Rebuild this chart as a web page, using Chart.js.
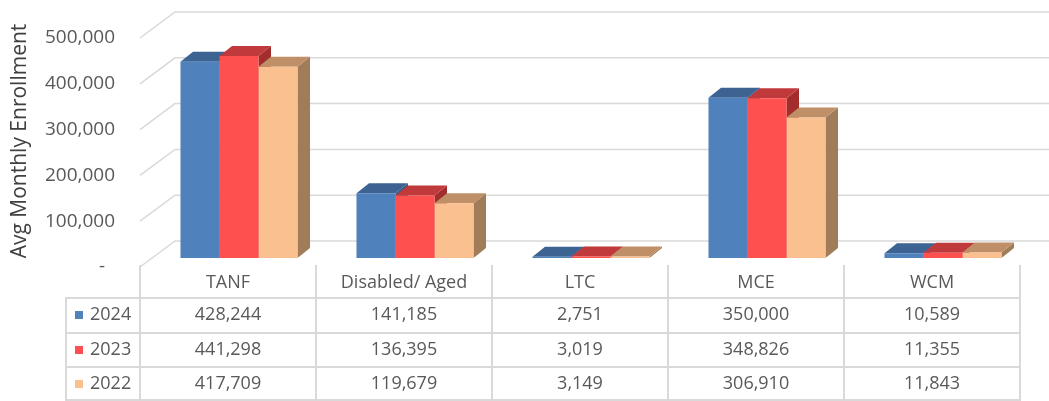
<!DOCTYPE html>
<html>
<head>
<meta charset="utf-8">
<script src="https://cdn.jsdelivr.net/npm/chart.js@4.4.1/dist/chart.umd.min.js"></script>
<style>
  html, body { margin: 0; padding: 0; background: #fff; }
  #wrap { width: 1049px; height: 401px; }
</style>
</head>
<body>
<div id="wrap"><canvas id="enrollChart"></canvas></div>
<script>
// ===== Data =====
const categories = ['TANF', 'Disabled/ Aged', 'LTC', 'MCE', 'WCM'];
const seriesNames = ['2024', '2023', '2022'];
const values2024 = [428244, 141185, 2751, 350000, 10589];
const values2023 = [441298, 136395, 3019, 348826, 11355];
const values2022 = [417709, 119679, 3149, 306910, 11843];
const yTicks = [0, 100000, 200000, 300000, 400000, 500000];
const axisTitle = 'Avg Monthly Enrollment';

// ===== Styles =====
const frontColors = ['#4F81BD', '#FF5050', '#FAC090'];
const topColors = ['#3D6393', '#C0393B', '#BF9068'];
const sideColors = ['#375A86', '#A32D2D', '#A07C5A'];
const GRID = '#D9D9D9';
const TEXT = '#595959';
const FONT = '"Open Sans", sans-serif';

// fake 3D offsets (px)
const BAR_SHIFT = { x: 11, y: -9 };
const BAR_DEPTH = { x: 12.5, y: -10 };
const WALL_SHIFT = { x: 35, y: -26 };

const fmt = v => v.toLocaleString('en-US');

const fake3d = {
    id: 'fake3d',
    beforeDatasetsDraw(chart) {
        const { ctx, chartArea, scales: { y } } = chart;

        // side wall + back wall grid
        ctx.save();
        ctx.strokeStyle = GRID;
        ctx.lineWidth = 1.5;
        yTicks.forEach(v => {
            const py = y.getPixelForValue(v);
            ctx.beginPath();
            ctx.moveTo(chartArea.left, py);
            ctx.lineTo(chartArea.left + WALL_SHIFT.x, py + WALL_SHIFT.y);
            ctx.lineTo(chart.width, py + WALL_SHIFT.y);
            ctx.stroke();
        });
        ctx.restore();

        // bars are pushed back a little; tops and sides first, fronts by Chart.js
        ctx.save();
        ctx.translate(BAR_SHIFT.x, BAR_SHIFT.y);
        const dx = BAR_DEPTH.x, dy = BAR_DEPTH.y;
        chart.data.datasets.forEach((ds, i) => {
            chart.getDatasetMeta(i).data.forEach(bar => {
                const p = bar.getProps(['x', 'y', 'base', 'width'], true);
                const l = p.x - p.width / 2, r = p.x + p.width / 2;
                ctx.fillStyle = sideColors[i];
                ctx.beginPath();
                ctx.moveTo(r, p.y);
                ctx.lineTo(r + dx, p.y + dy);
                ctx.lineTo(r + dx, p.base + dy);
                ctx.lineTo(r, p.base);
                ctx.closePath();
                ctx.fill();

                ctx.fillStyle = topColors[i];
                ctx.beginPath();
                ctx.moveTo(l, p.y);
                ctx.lineTo(r, p.y);
                ctx.lineTo(r + dx, p.y + dy);
                ctx.lineTo(l + dx, p.y + dy);
                ctx.closePath();
                ctx.fill();
            });
        });
    },
    afterDatasetsDraw(chart) {
        chart.ctx.restore();
    },
    afterDraw(chart) {
        const { ctx, scales: { x } } = chart;
        const colW = x.getPixelForValue(1) - x.getPixelForValue(0);
        const tableLeft = x.getPixelForValue(0) - colW / 2;
        const tableRight = tableLeft + colW * categories.length;
        const legendLeft = 66;
        const headTop = 265, headBottom = 298;
        const rowLines = [333, 367, 400];
        const rowMid = [315, 350, 384];
        const rows = [values2024, values2023, values2022];

        ctx.save();
        ctx.strokeStyle = GRID;
        ctx.lineWidth = 2;
        ctx.beginPath();
        for (let i = 0; i <= categories.length; i++) {
            const px = Math.round(tableLeft + colW * i);
            ctx.moveTo(px, headTop);
            ctx.lineTo(px, 401);
        }
        ctx.moveTo(legendLeft, headBottom);
        ctx.lineTo(legendLeft, 401);
        [headBottom].concat(rowLines).forEach(ly => {
            ctx.moveTo(legendLeft - 1, ly);
            ctx.lineTo(tableRight + 1, ly);
        });
        ctx.stroke();

        ctx.fillStyle = TEXT;
        ctx.font = '18px ' + FONT;
        ctx.textBaseline = 'middle';
        ctx.textAlign = 'center';
        categories.forEach((c, i) => ctx.fillText(c, x.getPixelForValue(i), 283));
        rows.forEach((vals, r) => {
            vals.forEach((v, i) => ctx.fillText(fmt(v), x.getPixelForValue(i), rowMid[r]));
        });

        ctx.textAlign = 'left';
        seriesNames.forEach((s, r) => {
            ctx.fillStyle = frontColors[r];
            ctx.fillRect(75, rowMid[r] - 4, 8, 8);
            ctx.fillStyle = TEXT;
            ctx.fillText(s, 90, rowMid[r]);
        });

        // axis title
        ctx.translate(20, 141);
        ctx.rotate(-Math.PI / 2);
        ctx.textAlign = 'center';
        ctx.fillStyle = '#404040';
        ctx.font = '21px ' + FONT;
        ctx.fillText(axisTitle, 0, 0);
        ctx.restore();
    }
};

const seriesValues = [values2024, values2023, values2022];

new Chart(document.getElementById('enrollChart'), {
    type: 'bar',
    data: {
        labels: categories,
        datasets: seriesNames.map((name, i) => ({
            label: name,
            data: seriesValues[i],
            backgroundColor: frontColors[i],
            borderWidth: 0,
            clip: false,
            categoryPercentage: 0.665,
            barPercentage: 1
        }))
    },
    options: {
        responsive: true,
        maintainAspectRatio: false,
        animation: false,
        events: [],
        layout: { padding: { top: 38, right: 29, bottom: 134, left: 0 } },
        plugins: {
            legend: { display: false },
            tooltip: { enabled: false }
        },
        scales: {
            x: { display: false },
            y: {
                min: 0,
                max: 500000,
                afterFit(scale) { scale.width = 140; },
                afterBuildTicks(scale) { scale.ticks = yTicks.map(v => ({ value: v })); },
                grid: { display: false, drawTicks: false },
                border: { display: false },
                ticks: {
                    padding: 25,
                    color: TEXT,
                    font: { family: FONT, size: 19 },
                    callback: v => v === 0 ? '-  ' : fmt(v)
                }
            }
        }
    },
    plugins: [fake3d]
});
</script>
</body>
</html>
